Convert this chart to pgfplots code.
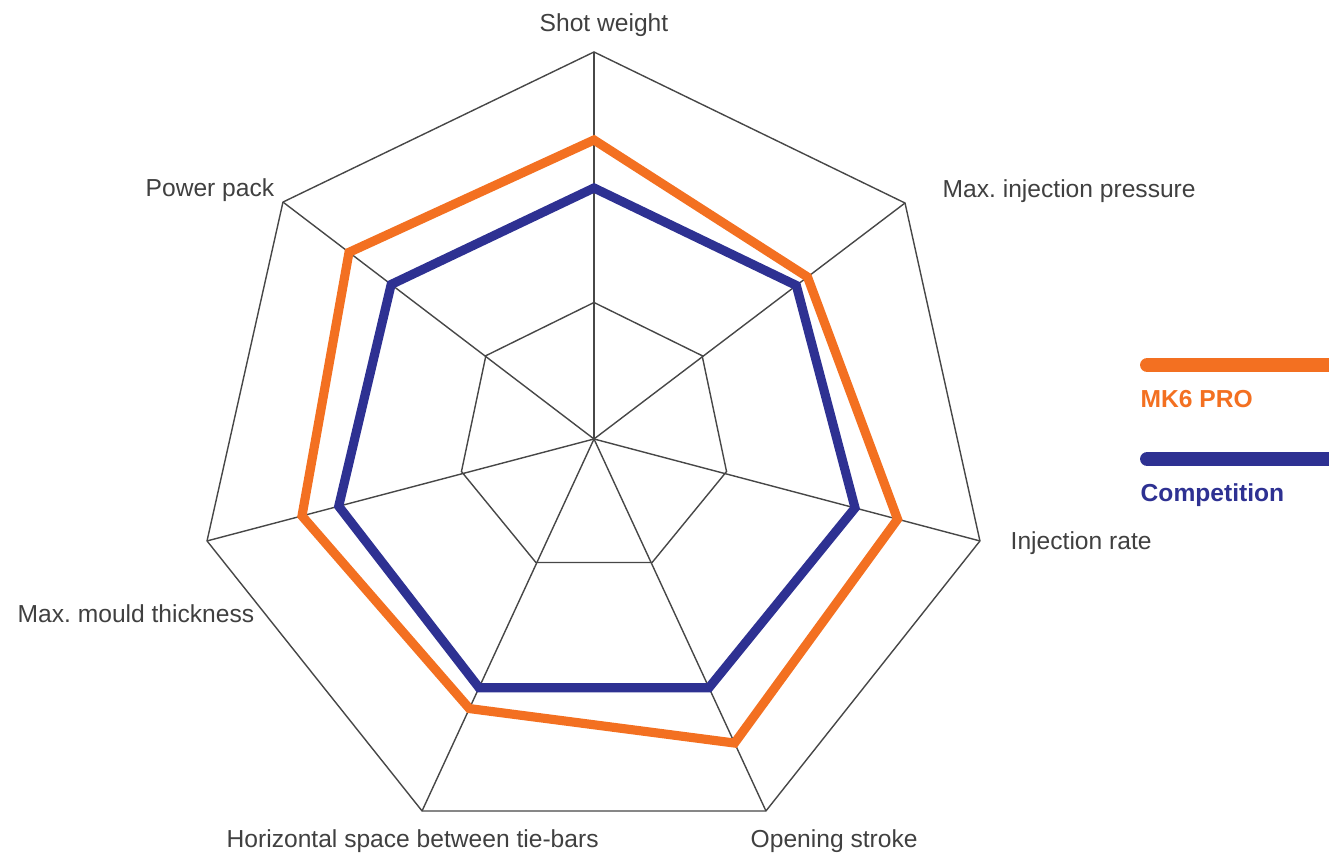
\documentclass[border=0pt]{standalone}
\usepackage{fontspec}
\setmainfont{Liberation Sans}
\usepackage{pgfplots}
\pgfplotsset{compat=1.18}
\usepgfplotslibrary{polar}
\definecolor{mkorange}{HTML}{F37021}
\definecolor{compblue}{HTML}{2E3192}
\definecolor{gridgrey}{HTML}{474747}
\definecolor{txtgrey}{HTML}{404040}
\tikzset{
  lbl/.style={font=\fontsize{7pt}{8pt}\selectfont\frenchspacing, text=txtgrey, anchor=base west, inner sep=0pt},
  leg/.style={font=\fontsize{7pt}{8pt}\selectfont\bfseries, anchor=base west, inner sep=0pt},
}
\begin{document}
\frenchspacing
\begin{tikzpicture}
\begin{axis}[
  scale only axis,
  width=13.29cm, height=8.57cm,
  xmin=-594, xmax=735, ymin=-418, ymax=439,
  axis line style={draw=none},
  xtick=\empty, ytick=\empty,
  clip=true,
  every axis plot/.append style={line join=miter},
]
% spokes (angle, radius of outer vertex)
\addplot[gridgrey, line width=0.4pt, data cs=polar, forget plot] coordinates {(90,0) (90,387)};
\addplot[gridgrey, line width=0.4pt, data cs=polar, forget plot] coordinates {(37.19,0) (37.19,390.4)};
\addplot[gridgrey, line width=0.4pt, data cs=polar, forget plot] coordinates {(-14.80,0) (-14.80,399.2)};
\addplot[gridgrey, line width=0.4pt, data cs=polar, forget plot] coordinates {(-65.19,0) (-65.19,409.8)};
\addplot[gridgrey, line width=0.4pt, data cs=polar, forget plot] coordinates {(-114.81,0) (-114.81,409.8)};
\addplot[gridgrey, line width=0.4pt, data cs=polar, forget plot] coordinates {(194.76,0) (194.76,400.2)};
\addplot[gridgrey, line width=0.4pt, data cs=polar, forget plot] coordinates {(142.70,0) (142.70,391)};
% outer ring
\addplot[gridgrey, line width=0.4pt, data cs=polar, forget plot] coordinates {
 (90,387) (37.19,390.4) (-14.80,399.2) (-65.19,409.8) (-114.81,409.8) (194.76,400.2) (142.70,391)} -- cycle;
% inner ring
\addplot[gridgrey, line width=0.4pt, data cs=polar, forget plot] coordinates {
 (90,136.5) (37.6,136.5) (-13.8,136.5) (-64.8,136.5) (-115.2,136.5) (193.8,136.5) (142.4,136.5)} -- cycle;
% Competition
\addplot[compblue, line width=2.6pt, data cs=polar, forget plot] coordinates {
 (90,251) (37.19,254) (-14.80,270) (-65.19,274) (-114.81,274) (194.76,264) (142.70,255)} -- cycle;
% MK6 PRO
\addplot[mkorange, line width=2.6pt, data cs=polar, forget plot] coordinates {
 (90,299) (37.19,268) (-14.80,314) (-65.19,335) (-114.81,297) (194.76,302) (142.70,308)} -- cycle;
% legend bars
\addplot[mkorange, line width=4.25pt, line cap=round, forget plot] coordinates {(553.5,74) (800,74)};
\addplot[compblue, line width=4.25pt, line cap=round, forget plot] coordinates {(553.5,-20) (800,-20)};
% labels
\node[lbl] at (axis cs:-55,407) {Shot weight};
\node[lbl] at (axis cs:-449,242) {Power pack};
\node[lbl] at (axis cs:348,241) {Max. injection pressure};
\node[lbl] at (axis cs:416,-111) {Injection rate};
\node[lbl] at (axis cs:-577,-184) {Max. mould thickness};
\node[lbl] at (axis cs:-368,-409) {Horizontal space between tie-bars};
\node[lbl] at (axis cs:156,-409) {Opening stroke};
\node[leg, text=mkorange] at (axis cs:546,31) {MK6 PRO};
\node[leg, text=compblue] at (axis cs:546,-63) {Competition};
\end{axis}
\end{tikzpicture}
\end{document}
